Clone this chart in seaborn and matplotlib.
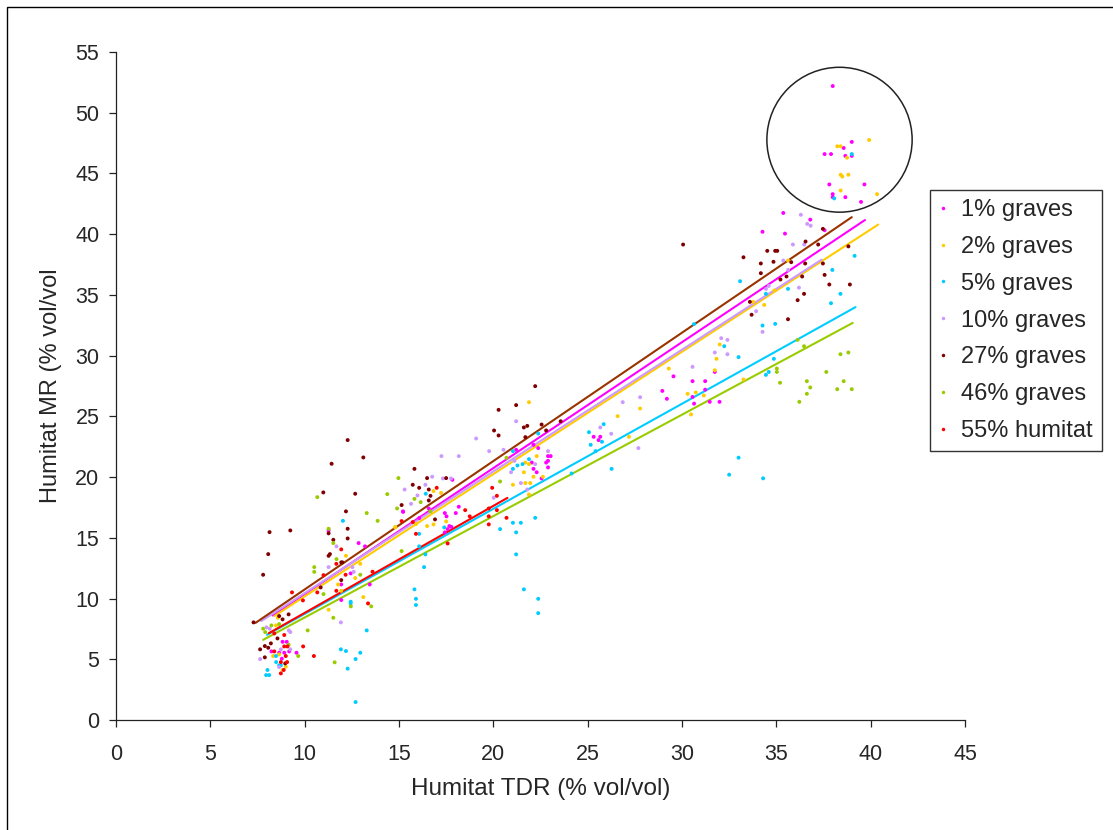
import numpy as np
import pandas as pd
import seaborn as sns
import matplotlib
matplotlib.use("Agg")
import matplotlib.pyplot as plt
from matplotlib.lines import Line2D
from matplotlib.patches import Ellipse, Rectangle

# series names and colours (Excel 2003 defaults)
series = ["1% graves", "2% graves", "5% graves", "10% graves",
          "27% graves", "46% graves", "55% humitat"]
point_colors = ["#FF00FF", "#FFCC00", "#00CCFF", "#CC99FF",
                "#800000", "#99CC00", "#FF0000"]
line_colors = ["#FF00FF", "#FFCC00", "#00CCFF", "#CC99FF",
               "#993300", "#99CC00", "#FF0000"]

# (TDR, MR) readings
pts_1 = [(37.99, 52.2), (39.0, 47.6), (37.56, 46.6), (37.9, 46.6), (38.57, 47.1),
         (38.66, 46.45), (39.0, 46.45), (37.81, 44.1), (37.99, 43.3), (37.99, 43.05),
         (38.66, 43.05), (39.67, 44.1), (39.49, 42.66), (35.37, 41.75), (36.8, 41.2),
         (34.27, 40.2), (35.46, 40.05), (37.56, 40.33), (28.96, 27.1), (29.2, 26.45),
         (29.55, 28.3), (30.56, 27.9), (31.23, 27.9), (30.56, 26.6), (30.64, 26.05),
         (31.23, 27.2), (31.47, 26.2), (31.99, 26.2), (31.74, 28.66), (25.32, 23.32),
         (25.58, 23.05), (25.67, 23.32), (22.38, 22.39), (22.9, 21.73), (23.04, 21.73),
         (22.9, 21.34), (22.8, 21.2), (22.9, 20.8), (22.13, 20.68), (22.3, 20.4),
         (22.56, 19.89), (22.04, 21.2), (22.13, 22.66), (21.21, 22.25), (17.83, 19.78),
         (18.17, 17.56), (18.01, 17.04), (17.52, 16.77), (17.43, 17.04), (17.67, 15.97),
         (17.78, 15.9), (17.58, 15.72), (17.43, 15.45), (16.58, 17.42), (15.22, 17.14),
         (16.07, 16.63), (15.21, 17.18), (12.86, 14.57), (13.2, 14.3), (11.27, 15.61),
         (12.44, 12.07), (11.94, 11.16), (13.45, 11.16), (11.94, 9.88), (8.83, 6.44),
         (9.05, 6.44), (8.24, 5.65), (8.65, 5.54), (8.92, 5.54), (8.79, 5.05),
         (9.57, 5.54), (9.18, 5.65)]
pts_2 = [(38.23, 47.24), (38.41, 47.24), (39.92, 47.76), (38.75, 46.3), (38.41, 44.9),
         (38.5, 44.75), (38.82, 44.9), (38.41, 43.6), (40.34, 43.3), (34.36, 34.18),
         (34.9, 35.37), (35.62, 37.83), (33.78, 34.43), (32.0, 30.92), (31.83, 29.74),
         (31.74, 28.8), (29.3, 28.94), (30.3, 26.86), (30.73, 26.97), (31.16, 26.72),
         (30.48, 25.16), (33.26, 28.04), (21.89, 26.17), (27.78, 25.65), (26.59, 25.02),
         (27.19, 23.32), (22.3, 21.73), (21.7, 21.2), (21.89, 21.07), (21.62, 20.4),
         (22.13, 20.03), (22.63, 20.03), (21.04, 19.37), (21.7, 19.51), (21.96, 19.51),
         (21.89, 18.57), (17.23, 18.7), (16.83, 18.85), (17.5, 16.35), (16.49, 15.97),
         (16.83, 16.11), (14.81, 15.86), (15.9, 16.13), (12.19, 13.52), (12.95, 12.86),
         (12.68, 11.69), (11.77, 11.16), (13.11, 10.12), (11.27, 9.08), (14.79, 15.88),
         (11.94, 10.64), (8.48, 7.79), (8.58, 8.42), (8.33, 5.27), (8.65, 5.4),
         (9.0, 4.39), (8.83, 4.12)]
pts_5 = [(39.0, 46.6), (38.07, 42.95), (33.08, 36.13), (34.45, 35.09), (35.62, 35.5),
         (37.97, 37.06), (39.15, 38.22), (38.4, 35.09), (37.9, 34.32), (34.27, 32.48),
         (34.94, 32.62), (32.24, 30.78), (33.0, 29.88), (34.87, 29.74), (34.45, 28.42),
         (34.6, 28.66), (30.64, 32.6), (32.5, 20.2), (34.3, 19.9), (33.0, 21.6),
         (22.38, 23.59), (21.04, 22.14), (21.04, 20.68), (21.28, 20.96), (21.55, 21.07),
         (21.89, 21.48), (25.07, 23.7), (25.16, 22.66), (25.42, 22.14), (25.76, 22.91),
         (25.85, 24.36), (26.27, 20.68), (24.15, 20.3), (21.04, 16.24), (21.46, 16.24),
         (21.21, 15.45), (22.22, 16.65), (21.21, 13.64), (20.36, 15.72), (21.62, 10.76),
         (22.38, 9.98), (22.38, 8.8), (15.82, 10.76), (15.9, 9.98), (15.9, 9.47),
         (16.33, 12.59), (16.4, 13.64), (16.07, 14.3), (16.07, 15.33), (17.4, 15.86),
         (16.42, 18.63), (12.03, 16.4), (12.44, 9.74), (12.44, 9.6), (8.49, 4.77),
         (8.65, 4.5), (8.74, 4.5), (8.03, 4.12), (7.96, 3.7), (8.12, 3.7),
         (8.48, 5.27), (11.92, 5.82), (12.19, 5.68), (12.95, 5.54), (12.7, 5.02),
         (12.28, 4.23), (12.7, 1.48), (13.29, 7.38)]
pts_10 = [(36.3, 41.6), (36.64, 40.85), (36.82, 40.7), (35.88, 39.15), (36.48, 39.15),
          (35.37, 37.83), (35.63, 37.06), (34.6, 35.74), (34.45, 35.5), (36.2, 35.6),
          (33.93, 33.66), (32.08, 31.44), (32.41, 31.3), (31.74, 30.26), (32.41, 30.12),
          (30.56, 29.08), (34.27, 31.96), (27.78, 26.58), (26.86, 26.17), (25.67, 24.09),
          (26.25, 23.57), (27.69, 22.39), (21.21, 24.6), (19.09, 23.18), (19.78, 22.14),
          (20.54, 22.25), (17.25, 21.73), (18.17, 21.73), (22.9, 22.14), (21.12, 21.34),
          (20.94, 20.4), (22.22, 21.07), (21.46, 19.51), (20.02, 18.3), (21.8, 18.98),
          (16.76, 20.03), (17.33, 19.89), (17.76, 19.89), (15.3, 18.98), (16.4, 19.37),
          (15.64, 17.8), (15.98, 18.49), (11.27, 12.59), (11.69, 14.3), (12.53, 12.59),
          (12.6, 12.2), (7.64, 5.02), (7.98, 7.63), (8.15, 7.52), (9.16, 7.38),
          (9.24, 7.24), (8.74, 5.82), (9.24, 5.82), (11.92, 8.04), (8.65, 4.36)]
pts_27 = [(30.06, 39.15), (33.26, 38.1), (34.52, 38.63), (34.94, 38.63), (35.05, 38.63),
          (34.18, 37.59), (34.85, 37.73), (34.18, 36.79), (35.79, 37.7), (36.55, 39.4),
          (37.22, 39.15), (37.47, 40.44), (36.53, 37.59), (37.47, 37.59), (35.54, 36.52),
          (35.22, 36.27), (36.37, 36.52), (37.56, 36.65), (37.81, 35.86), (36.47, 35.09),
          (36.13, 34.57), (33.6, 34.43), (33.69, 33.37), (35.62, 33.0), (38.82, 39.0),
          (38.9, 35.86), (22.22, 27.49), (21.21, 25.93), (20.28, 25.54), (20.04, 23.84),
          (20.28, 23.43), (21.62, 24.09), (21.8, 24.22), (22.56, 24.33), (22.8, 23.84),
          (23.57, 24.6), (21.7, 23.29), (15.82, 20.68), (16.49, 19.92), (17.5, 19.92),
          (15.73, 19.37), (16.07, 19.12), (16.58, 18.98), (16.67, 18.46), (16.58, 18.08),
          (15.14, 17.7), (16.91, 16.52), (12.28, 23.05), (13.11, 21.62), (11.43, 21.1),
          (10.99, 18.74), (12.68, 18.63), (12.19, 17.18), (8.14, 15.47), (9.24, 15.61),
          (8.07, 13.66), (7.8, 11.96), (12.28, 15.75), (11.27, 15.37), (11.52, 14.84),
          (12.28, 14.95), (11.27, 13.52), (11.34, 13.66), (11.94, 12.98), (12.0, 12.98),
          (11.94, 11.52), (10.85, 10.92), (7.29, 8.04), (8.65, 8.56), (8.83, 8.29),
          (9.15, 8.7), (8.56, 6.72), (8.21, 6.31), (7.89, 6.09), (7.64, 5.82),
          (8.07, 5.95), (7.89, 5.16), (8.97, 4.66)]
pts_46 = [(36.13, 31.3), (36.47, 30.78), (35.03, 28.94), (35.03, 28.66), (35.2, 27.77),
          (36.62, 27.9), (36.8, 27.38), (36.62, 26.86), (36.22, 26.2), (37.65, 28.66),
          (38.4, 30.12), (38.82, 30.26), (38.57, 27.9), (38.23, 27.24), (39.0, 27.24),
          (14.97, 19.92), (14.38, 18.6), (14.9, 17.42), (15.82, 18.21), (16.15, 17.94),
          (15.14, 13.91), (20.36, 19.64), (20.7, 21.59), (16.67, 17.18), (10.67, 18.35),
          (13.29, 17.04), (13.87, 16.4), (11.27, 15.75), (11.52, 14.57), (11.69, 13.25),
          (10.51, 12.59), (10.51, 12.2), (12.95, 11.96), (11.0, 10.37), (13.53, 9.36),
          (11.52, 8.42), (7.8, 7.52), (7.91, 7.24), (8.24, 7.79), (8.65, 7.9),
          (9.15, 6.2), (9.66, 5.27), (10.16, 7.38), (11.59, 4.75), (12.45, 9.36)]
pts_55 = [(19.94, 19.12), (20.19, 18.46), (19.76, 17.42), (19.76, 16.77), (19.76, 16.11),
          (20.19, 17.28), (20.7, 16.65), (18.51, 17.28), (18.75, 16.77), (17.58, 14.54),
          (15.9, 15.33), (15.14, 16.38), (17.0, 19.12), (15.73, 16.3), (11.94, 14.05),
          (12.17, 11.96), (11.68, 12.86), (11.68, 10.64), (13.6, 12.21), (13.36, 9.6),
          (10.67, 10.51), (9.33, 10.51), (9.91, 9.85), (11.0, 11.93), (8.92, 6.06),
          (9.09, 6.06), (8.39, 5.65), (9.0, 5.27), (9.07, 4.77), (8.74, 4.77),
          (8.89, 4.12), (8.74, 3.84), (9.92, 6.06), (10.49, 5.27), (8.92, 7.0),
          (8.39, 7.13)]

# linear trendlines: slope, intercept and x range of each series
trend_slope = [1.037, 1.007, 0.865, 1.002, 1.057, 0.835, 0.881]
trend_icpt = [0.0, 0.11, 0.09, 0.43, 0.18, 0.09, 0.01]
trend_x0 = [8.3, 8.4, 8.0, 7.7, 7.4, 7.8, 8.1]
trend_x1 = [39.7, 40.4, 39.2, 37.4, 39.0, 39.05, 20.75]

all_pts = [pts_1, pts_2, pts_5, pts_10, pts_27, pts_46, pts_55]
rows = []
for name, pts in zip(series, all_pts):
    for x, y in pts:
        rows.append((name, x, y))
df = pd.DataFrame(rows, columns=["serie", "tdr", "mr"])

sns.set_style("white")
plt.rcParams["font.family"] = ["Liberation Sans", "DejaVu Sans"]

fig = plt.figure(figsize=(11.13, 8.30), dpi=100)
ax = fig.add_axes([0.1042, 0.1325, 0.7628, 0.8048])

sns.scatterplot(data=df, x="tdr", y="mr", hue="serie", hue_order=series,
                palette=point_colors, marker="o", s=8, linewidth=0,
                legend=False, ax=ax, zorder=3)

for i in range(len(series)):
    xs = np.array([trend_x0[i], trend_x1[i]])
    ax.plot(xs, trend_slope[i] * xs + trend_icpt[i], color=line_colors[i],
            lw=1.5, zorder=2)

# circle around the outliers
ax.add_patch(Ellipse((38.35, 47.78), 7.70, 11.93, fill=False,
                     edgecolor="#222222", lw=1.1, zorder=4))

ax.set_xlim(0, 45)
ax.set_ylim(0, 55)
ax.set_xticks(np.arange(0, 46, 5))
ax.set_yticks(np.arange(0, 56, 5))
for s in ["top", "right"]:
    ax.spines[s].set_visible(False)
for s in ["left", "bottom"]:
    ax.spines[s].set_color("#222222")
    ax.spines[s].set_linewidth(0.9)
ax.tick_params(axis="both", direction="out", length=5, width=0.9,
               color="#222222", labelsize=15.5, left=True, bottom=True)
ax.tick_params(axis="x", pad=12)
ax.tick_params(axis="y", pad=7)

ax.set_xlabel("Humitat TDR (% vol/vol)", fontsize=17.5)
ax.set_ylabel("Humitat MR (% vol/vol", fontsize=17)
ax.xaxis.set_label_coords(0.5, -0.087)
ax.yaxis.set_label_coords(-0.064, 0.5)

handles = [Line2D([], [], ls="", marker="o", markersize=2.5,
                  markerfacecolor=c, markeredgewidth=0) for c in point_colors]
leg = fig.legend(handles, series, loc="upper left",
                 bbox_to_anchor=(930 / 1113, 1 - 190 / 830), fontsize=17,
                 frameon=True, fancybox=False, borderpad=0.38, labelspacing=0.63,
                 handlelength=0.38, handletextpad=0.55, borderaxespad=0)
leg.get_frame().set_edgecolor("black")
leg.get_frame().set_linewidth(1.0)

# outer chart border
fig.add_artist(Rectangle((7 / 1113, -0.1), 1.2, 1.1 - 7 / 830, fill=False,
                         edgecolor="black", lw=1.0, transform=fig.transFigure))

fig.savefig("out.png", dpi=100)
